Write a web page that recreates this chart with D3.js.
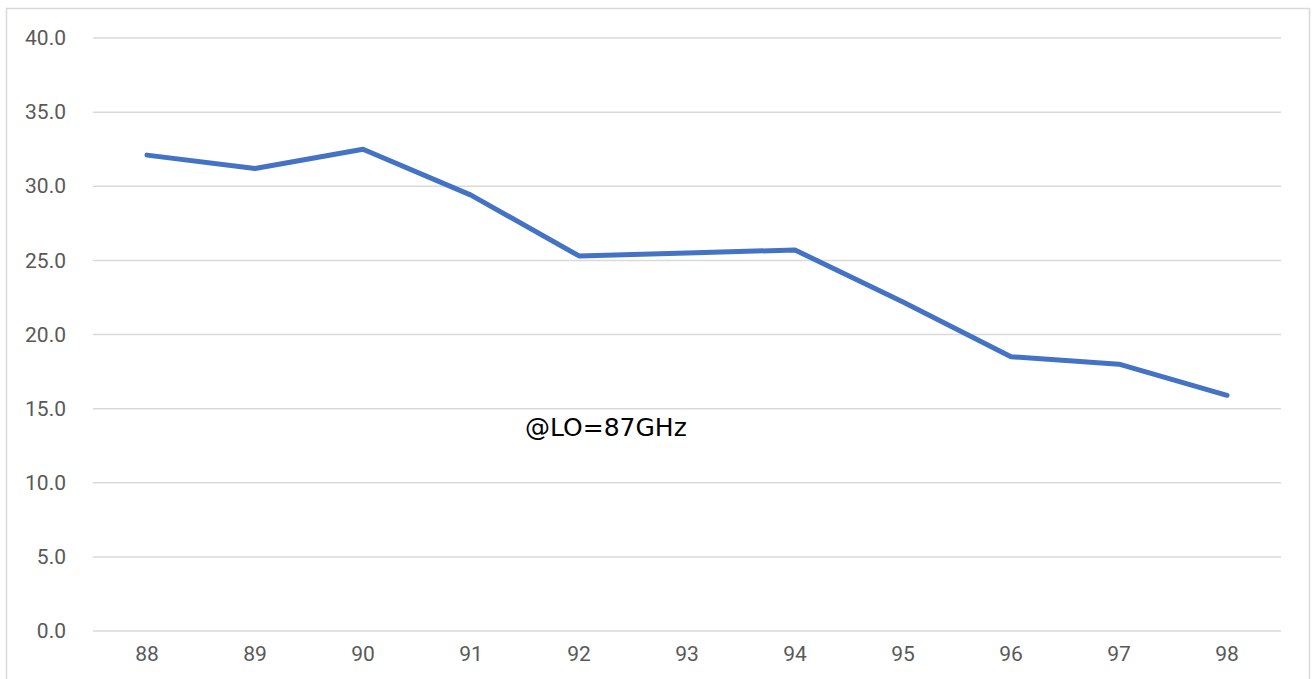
<!DOCTYPE html>
<html>
<head>
<meta charset="utf-8">
<script src="https://cdn.jsdelivr.net/npm/d3@7"></script>
<style>
  body { margin: 0; background: #fff; }
  svg { display: block; }
</style>
</head>
<body>
<div id="chart"></div>
<script>
// chart data
var categories = ['88', '89', '90', '91', '92', '93', '94', '95', '96', '97', '98'];
var values = [32.1, 31.2, 32.5, 29.4, 25.3, 25.5, 25.7, 22.2, 18.5, 18.0, 15.9];
var yTicks = [0, 5, 10, 15, 20, 25, 30, 35, 40];
var note = '@LO=87GHz';

var W = 1313, H = 679;
var margin = { top: 38, right: 32, bottom: 48, left: 93 };
var width = W - margin.left - margin.right;
var height = H - margin.top - margin.bottom;

var svg = d3.select('#chart').append('svg')
    .attr('width', W)
    .attr('height', H);

// outer frame
svg.append('rect')
    .attr('x', 6.5).attr('y', 8.5)
    .attr('width', 1303).attr('height', 700)
    .attr('fill', 'none')
    .attr('stroke', '#d9d9d9')
    .attr('stroke-width', 1.5);

var g = svg.append('g')
    .attr('transform', 'translate(' + margin.left + ',' + margin.top + ')');

var x = d3.scaleBand()
    .domain(categories)
    .range([0, width]);

var y = d3.scaleLinear()
    .domain([0, 40])
    .range([height, 0]);

// grid lines
g.selectAll('line.grid').data(yTicks)
  .enter().append('line')
    .attr('class', 'grid')
    .attr('x1', 0).attr('x2', width)
    .attr('y1', function(d) { return y(d); })
    .attr('y2', function(d) { return y(d); })
    .attr('stroke', '#d9d9d9')
    .attr('stroke-width', 1.5);

// y labels
var yAxis = g.append('g')
    .call(d3.axisLeft(y).tickValues(yTicks).tickFormat(d3.format('.1f')).tickSize(0).tickPadding(27));
yAxis.select('.domain').remove();
yAxis.selectAll('text')
    .attr('fill', '#595959')
    .style('font-family', 'Roboto, "Noto Sans", sans-serif')
    .style('font-size', '21px');

// x labels
var xAxis = g.append('g')
    .attr('transform', 'translate(0,' + height + ')')
    .call(d3.axisBottom(x).tickSize(0).tickPadding(15));
xAxis.select('.domain').remove();
xAxis.selectAll('text')
    .attr('fill', '#595959')
    .style('font-family', 'Roboto, "Noto Sans", sans-serif')
    .style('font-size', '21px');

// line
var line = d3.line()
    .x(function(d, i) { return x(categories[i]) + x.bandwidth() / 2; })
    .y(function(d) { return y(d); });

g.append('path')
    .datum(values)
    .attr('d', line)
    .attr('fill', 'none')
    .attr('stroke', '#4472c4')
    .attr('stroke-width', 5)
    .attr('stroke-linecap', 'round')
    .attr('stroke-linejoin', 'round');

// annotation
svg.append('text')
    .attr('x', 525)
    .attr('y', 436)
    .attr('fill', '#000')
    .style('font-family', '"DejaVu Sans", sans-serif')
    .style('font-size', '25px')
    .text(note);
</script>
</body>
</html>
